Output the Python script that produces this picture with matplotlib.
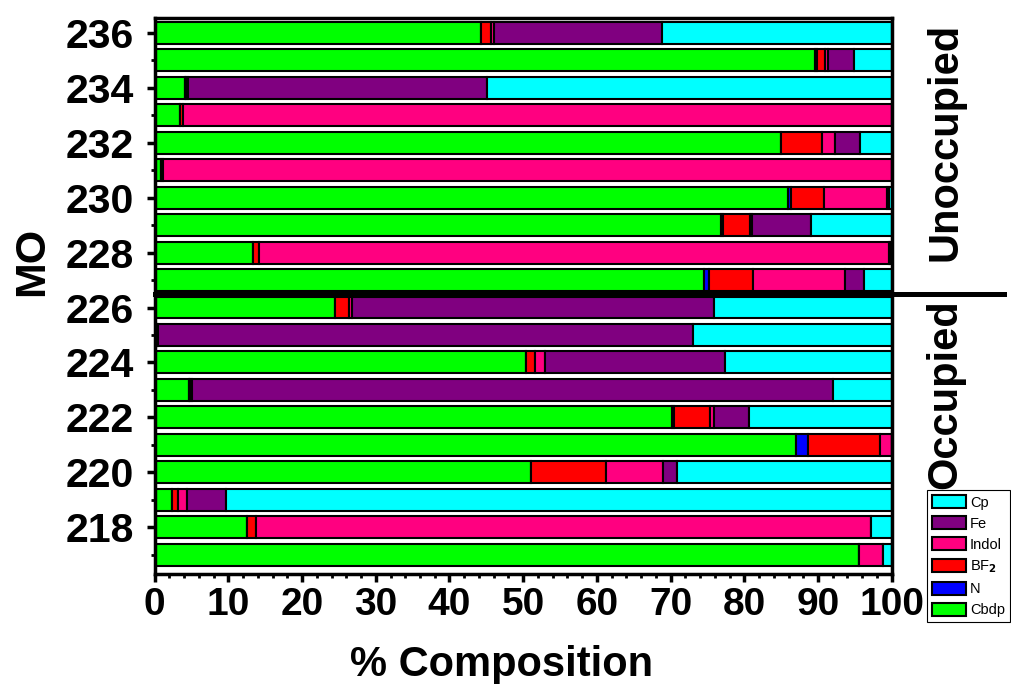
import numpy as np
import matplotlib.pyplot as plt
from matplotlib.ticker import MultipleLocator

plt.rcParams['font.family'] = ['Liberation Sans', 'DejaVu Sans']
plt.rcParams['font.weight'] = 'bold'

mo = np.arange(217, 237)
# % composition per MO (217 -> 236)
cbdp  = [95.5, 12.5, 2.4, 51.0, 87.0, 70.2, 4.6, 50.4, 0.3, 24.5,
         74.5, 13.3, 76.9, 85.9, 0.9, 85.0, 3.5, 4.1, 89.6, 44.3]
n     = [0.0, 0.0, 0.0, 0.0, 1.7, 0.3, 0.0, 0.0, 0.0, 0.0,
         0.7, 0.0, 0.2, 0.5, 0.0, 0.0, 0.0, 0.0, 0.3, 0.0]
bf2   = [0.0, 1.2, 0.7, 10.2, 9.7, 4.9, 0.2, 1.2, 0.0, 1.8,
         6.0, 0.8, 3.7, 4.4, 0.2, 5.6, 0.3, 0.2, 1.0, 1.3]
indol = [3.3, 83.5, 1.3, 7.8, 1.6, 0.5, 0.2, 1.4, 0.1, 0.5,
         12.4, 85.5, 0.2, 8.5, 98.9, 1.7, 96.2, 0.2, 0.5, 0.4]
fe    = [0.0, 0.0, 5.3, 1.9, 0.0, 4.7, 87.0, 24.4, 72.6, 49.1,
         2.6, 0.2, 8.1, 0.4, 0.0, 3.4, 0.0, 40.6, 3.5, 22.8]
cp    = [1.2, 2.8, 90.3, 29.1, 0.0, 19.4, 8.0, 22.6, 27.0, 24.1,
         3.8, 0.2, 10.9, 0.3, 0.0, 4.3, 0.0, 54.9, 5.1, 31.2]

series = [("Cbdp", cbdp, "#00ff00"), ("N", n, "#0000ff"),
          ("BF$_2$", bf2, "#ff0000"), ("Indol", indol, "#ff0080"),
          ("Fe", fe, "#800080"), ("Cp", cp, "#00ffff")]

fig = plt.figure(figsize=(10.11, 6.84), dpi=100)
ax = fig.add_axes([0.153, 0.161, 0.729, 0.813])

left = np.zeros(len(mo))
handles = []
for name, vals, col in series:
    vals = np.array(vals)
    b = ax.barh(mo, vals, left=left, height=0.8, color=col,
                edgecolor='black', linewidth=1.5, label=name)
    handles.append(b)
    left += vals

ax.set_xlim(0, 100)
ax.set_ylim(216.3, 236.55)
ax.xaxis.set_major_locator(MultipleLocator(10))
ax.xaxis.set_minor_locator(MultipleLocator(2))
ax.yaxis.set_major_locator(MultipleLocator(2))
ax.yaxis.set_minor_locator(MultipleLocator(1))
ax.tick_params(which='major', length=6, width=2.5, labelsize=28)
ax.tick_params(axis='y', which='major', labelsize=29.5, pad=9)
ax.tick_params(which='minor', length=3, width=2)
for sp in ax.spines.values():
    sp.set_linewidth(2.5)

ax.set_xlabel("% Composition", fontsize=30, fontweight='bold')
ax.set_ylabel("MO", fontsize=31, fontweight='bold')
ax.xaxis.set_label_coords(0.47, -0.128)
ax.yaxis.set_label_coords(-0.139, 0.561)

# occupied / unoccupied divider
ax.plot([0, 115.3], [226.5, 226.5], color='black', lw=3.6, clip_on=False)
fig.text(945 / 1011, 1 - 142 / 684, "Unoccupied", rotation=90,
         ha='center', va='center', fontsize=30, fontweight='bold')
fig.text(945 / 1011, 1 - 394 / 684, "Occupied", rotation=90,
         ha='center', va='center', fontsize=30, fontweight='bold')

leg = fig.legend(handles[::-1], [s[0] for s in series][::-1],
                 loc='upper left', bbox_to_anchor=(927 / 1011, 1 - 490 / 684),
                 fontsize=10.5, frameon=True, fancybox=False, framealpha=1,
                 edgecolor='black', handlelength=2.3, handleheight=1.0,
                 labelspacing=0.45, handletextpad=0.3, borderpad=0.35,
                 borderaxespad=0)
leg.get_frame().set_linewidth(0.8)
for t in leg.get_texts():
    t.set_fontweight('normal')

fig.savefig("out.png", dpi=100)
